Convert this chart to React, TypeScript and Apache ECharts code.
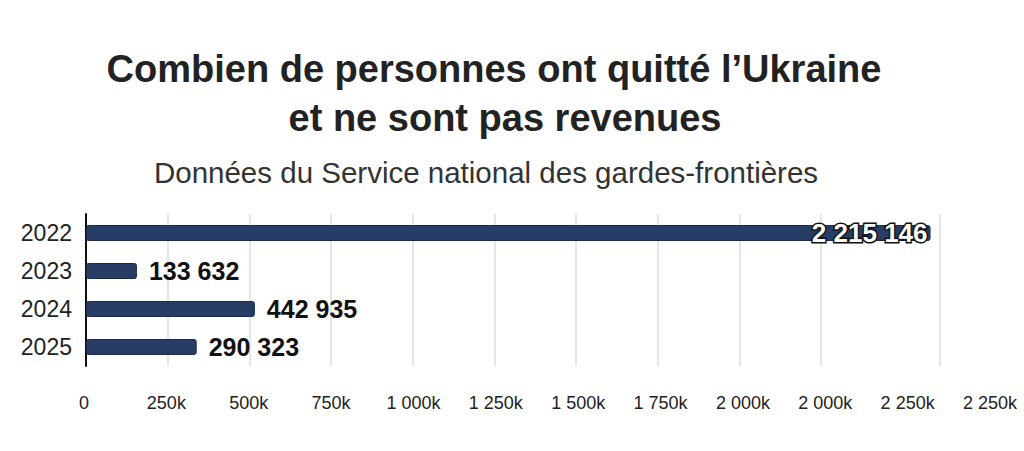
import React, { useEffect, useRef } from "react";
import * as echarts from "echarts";

const titleLine1 = "Combien de personnes ont quitté l’Ukraine";
const titleLine2 = "et ne sont pas revenues";
const subtitle = "Données du Service national des gardes-frontières";

const years = ["2022", "2023", "2024", "2025"];
const leftCount = [2215146, 133632, 442935, 290323];
const tickLabels = [
  "0", "250k", "500k", "750k", "1 000k", "1 250k", "1 500k", "1 750k",
  "2 000k", "2 000k", "2 250k", "2 250k",
];
const gridSteps = [0, 1, 2, 3, 4, 5, 6, 7, 8, 9];

const fmt = (v: number) => String(v).replace(/\B(?=(\d{3})+(?!\d))/g, " ");

export default function App() {
  const ref = useRef<HTMLDivElement>(null);
  useEffect(() => {
    if (!ref.current) return;
    const chart = echarts.init(ref.current, undefined, { renderer: "svg" });
    const font = "'Liberation Sans', Arial, sans-serif";
    const barColor = "#273d66";
    chart.setOption({
      animation: false,
      backgroundColor: "#ffffff",
      graphic: [
        {
          type: "text",
          x: 494,
          y: 69,
          style: {
            text: titleLine1,
            align: "center",
            verticalAlign: "middle",
            fontSize: 38,
            fontWeight: "bold",
            fontFamily: font,
            fill: "#222222",
          },
        },
        {
          type: "text",
          x: 505,
          y: 118,
          style: {
            text: titleLine2,
            align: "center",
            verticalAlign: "middle",
            fontSize: 38,
            fontWeight: "bold",
            fontFamily: font,
            fill: "#222222",
          },
        },
        {
          type: "text",
          x: 486,
          y: 172,
          style: {
            text: subtitle,
            align: "center",
            verticalAlign: "middle",
            fontSize: 29.5,
            fontFamily: font,
            fill: "#333333",
          },
        },
      ],
      grid: [
        { left: 86, right: 84, top: 214, bottom: 85 },
        { left: 86, right: 203, top: 214, bottom: 85 },
        { left: 84, right: 34, top: 214, bottom: 85 },
      ],
      xAxis: [
        {
          type: "value",
          gridIndex: 0,
          min: 0,
          max: 2240000,
          interval: 2240000,
          axisLabel: { show: false },
          axisLine: { show: false },
          axisTick: { show: false },
          splitLine: { show: true, lineStyle: { color: "#dddddd", width: 1.5 } },
        },
        {
          type: "value",
          gridIndex: 1,
          min: 0,
          max: gridSteps[gridSteps.length - 1],
          interval: 1,
          axisLabel: { show: false },
          axisLine: { show: false },
          axisTick: { show: false },
          splitLine: { show: true, lineStyle: { color: "#dddddd", width: 1.5 } },
        },
        {
          type: "category",
          gridIndex: 2,
          data: tickLabels,
          boundaryGap: false,
          axisLine: { show: false },
          axisTick: { show: false },
          splitLine: { show: false },
          axisLabel: {
            interval: 0,
            margin: 28,
            fontSize: 18,
            color: "#222222",
            fontFamily: font,
          },
        },
      ],
      yAxis: [
        {
          type: "category",
          gridIndex: 0,
          data: years,
          inverse: true,
          axisLine: { show: true, lineStyle: { color: "#111111", width: 2 } },
          axisTick: { show: false },
          axisLabel: { fontSize: 23, color: "#222222", margin: 14, fontFamily: font },
        },
        { type: "value", gridIndex: 1, show: false },
        { type: "value", gridIndex: 2, show: false },
      ],
      series: [
        {
          type: "bar",
          xAxisIndex: 0,
          yAxisIndex: 0,
          barWidth: 16,
          itemStyle: {
            color: barColor,
            borderColor: "#1a2a48",
            borderWidth: 1,
            borderRadius: 2,
          },
          label: {
            show: true,
            position: "right",
            distance: 12,
            formatter: (p: any) => fmt(p.value),
            fontSize: 25,
            fontWeight: "bold",
            color: "#111111",
            fontFamily: font,
          },
          data: leftCount.map((v, i) =>
            i === 0
              ? {
                  value: v,
                  label: {
                    position: "insideRight",
                    distance: 3,
                    fontSize: 26,
                    color: "#ffffff",
                    textBorderColor: "#111111",
                    textBorderWidth: 3,
                  },
                }
              : v
          ),
        },
      ],
    });
    return () => chart.dispose();
  }, []);
  return <div ref={ref} style={{ width: 1024, height: 451, position: "absolute", left: 0, top: 0 }} />;
}
